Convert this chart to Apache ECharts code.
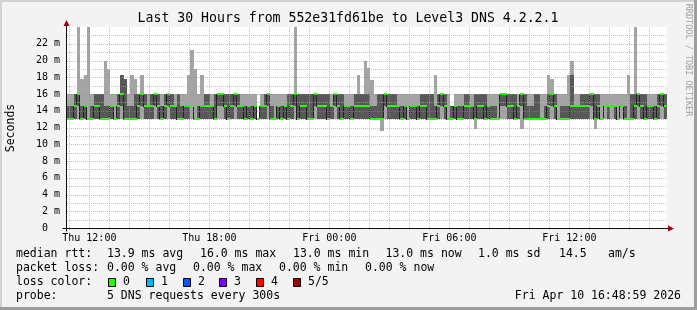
<!DOCTYPE html>
<html><head><meta charset="utf-8">
<script src="https://cdn.jsdelivr.net/npm/echarts@6/dist/echarts.min.js"></script>
<style>html,body{margin:0;padding:0;background:#f3f3f3}#c{width:697px;height:310px}</style>
</head><body><div id="c"></div><script>
// time in hours since Thu 00:00; one sample every 10 minutes
const START = 10 + 53/60;
const STEP = 1/6;
const YMAX = 24;

const xTickValues = [12, 18, 24, 30, 36];
const xTickLabels = ['Thu 12:00', 'Thu 18:00', 'Fri 00:00', 'Fri 06:00', 'Fri 12:00'];
const yTickValues = [0, 2, 4, 6, 8, 10, 12, 14, 16, 18, 20, 22];
const vGridMinor = [11,12,13,14,15,16,17,18,19,20,21,22,23,24,25,26,27,28,29,30,31,32,33,34,35,36,37,38,39,40];
const vGridMajor = [12,15,18,21,24,27,30,33,36,39];
const hGridMinor = [1,3,5,7,9,11,13,15,17,19,21,23];
const hGridMajor = [2,4,6,8,10,12,14,16,18,20,22];

// ping percentiles (ms): lowest, 2nd, median, 4th, highest
const pingMin = [
13,13,13,13,13,13,13,13,13,13, 13,13,13,13,13,13,13,13,13,13,
13,13,13,13,13,13,13,13,13,13, 13,13,13,13,13,13,13,13,13,13,
13,13,13,13,13,13,13,13,13,13, 13,13,13,13,13,13,13,13,13,13,
13,13,13,13,13,13,13,13,13,13, 13,13,13,13,13,13,13,13,13,13,
13,13,13,13,13,13,13,13,13,13, 13,13,13,13,11.6,13,13,13,13,13,
13,13,13,13,13,13,13,13,13,13, 13,13,13,13,13,13,13,13,13,13,
13,13,11.8,13,13,13,13,13,13,13, 13,13,13,13,13,13,11.8,13,13,13,
13,13,13,13,13,13,13,13,13,13, 13,13,13,13,13,13,13,13,11.8,13,
13,13,13,13,13,13,13,13,13,13, 13,13,13,13,13,13,13,13,13,13];
const ping2 = [
13,13,13,14.6,13,13,13,13,13,13, 13,13,13,13,13,13,14.6,13,13,13,
13,13,14.6,13,13,13,14.6,13,13,13, 14.6,13,13,13,13,13,13,14.6,13,13,
13,13,13,13,13,14.6,14.6,13,13,13, 14.6,13,13,13,13,13,13,13,13,13,
14.6,13,13,13,13,13,13,13,14.6,13, 13,13,13,13,14.6,13,13,13,13,13,
14.6,13,13,13,13,13,13,13,13,13, 13,13,13,13,13,14.6,13,13,13,13,
13,13,13,13,13,13,13,13,13,13, 13,13,14.6,13,13,13,13,13,13,13,
13,13,13,13,13,13,13,13,13,13, 14.6,14.6,13,13,13,13,14.6,13,13,13,
13,13,13,13,13,14.6,13,13,13,13, 13,13,13,13,13,13,13,14.6,13,13,
13,14.6,13,14.6,13,13,14.6,13,13,13, 13,14.6,13,13,13,13,13,13,14.6,13];
const median = [
13,13,14.6,16,13,14.6,13,13,14.6,14.6, 13,13,13,14.6,13,14.6,16,13,13,13,
13,14.6,16,14.6,14.6,14.6,16,14.6,13,14.6, 16,14.6,14.6,13,13,14.6,14.6,14.6,13,13,
14.6,14.6,14.6,14.6,13,16,16,14.6,13,14.6, 16,14.6,14.6,13,14.6,13,14.6,13,14.6,14.6,
16,13,13,14.6,13,14.6,13,14.6,16,13, 14.6,14.6,13,13,16,14.6,14.6,14.6,13,14.6,
16,14.6,13,14.6,14.6,13,14.6,14.6,14.6,14.6, 14.6,13,13,13,13,16,14.6,14.6,14.6,14.6,
13,14.6,13,14.6,14.6,13,14.6,14.6,13,13, 13,14.6,16,14.6,13,13,14.6,13,13,14.6,
14.6,14.6,13,14.6,14.6,13,14.6,13,13,13, 16,16,14.6,14.6,13,14.6,16,13,13,13,
13,13,13,13,14.6,16,14.6,13,13,13, 13,14.6,14.6,14.6,14.6,14.6,14.6,16,13,14.6,
13,14.6,14.6,14.6,14.6,13,14.6,13,13,13, 14.6,16,14.6,13,14.6,14.6,13,14.6,16,14.6];
const ping4 = [
14.6,14.6,16,16,14.6,14.6,13,14.6,16,16, 16,14.6,14.6,14.6,13,16,18.3,17.8,14.6,14.6,
16,16,16,16,14.6,16,16,16,14.6,16, 16,16,14.6,16,14.6,14.6,14.6,14.6,13,14.6,
14.6,16,16,14.6,16,16,16,16,16,16, 16,16,14.6,14.6,14.6,14.6,14.6,13,14.6,16,
16,14.6,13,14.6,14.6,14.6,16,16,16,16, 16,16,16,16,16,16,16,16,16,14.6,
16,16,16,14.6,14.6,14.6,16,16,16,16, 16,14.6,14.6,16,16,16,16,16,16,14.6,
14.6,14.6,13,14.6,14.6,14.6,16,16,16,16, 14.6,16,16,16,13,14.6,14.6,14.6,14.6,16,
16,14.6,16,16,16,16,14.6,14.6,14.6,13, 16,16,16,16,16,14.6,16,16,14.6,14.6,
16,16,13,14.6,16,16,16,13,14.6,14.6, 14.6,18.3,14.6,14.6,16,16,16,16,16,16,
13,14.6,14.6,14.6,14.6,13,14.6,14.6,13,16, 16,16,16,16,14.6,14.6,14.6,16,16,16];
const pingMax = [
16,16,16,25,17.8,18.3,25,16,16,16, 16,20,19,16,16,16,18.3,17.8,16,18.3,
17.8,16,18.3,16,16,16,16,16,16,16, 16,16,16,16,16,16,18.3,21.2,19,16,
18.3,16,16,16,16,16,16,16,16,16, 16,16,16,16,16,16,16,13,16,16,
16,16,16,16,16,16,16,16,25,16, 16,16,16,16,16,16,16,16,16,16,
16,16,16,16,16,16,16,18.3,16,20, 19.1,17.7,16,16,16,16,16,16,16,16,
16,16,16,16,16,16,16,16,16,16, 18.3,16,16,16,16,14.6,16,16,16,16,
16,16,16,16,16,16,16,16,16,16, 16,16,16,16,16,16,16,16,16,16,
16,16,16,16,18.3,17.8,16,16,16,16, 18.3,20,16,16,16,16,16,16,16,16,
16,16,16,16,16,16,16,16,18.3,16, 25,16,16,16,16,16,16,16,16,16];

const MONO = '"DejaVu Sans Mono", monospace';
const smokeData = pingMin.map((v, i) => [START + i*STEP, START + (i+1)*STEP, pingMin[i], ping2[i], ping4[i], pingMax[i]]);
const medData = median.map((v, i) => [START + i*STEP, START + (i+1)*STEP, v, i + 1 < median.length ? median[i+1] : v]);
const gridData = [];
vGridMinor.forEach(v => { if (vGridMajor.indexOf(v) < 0) gridData.push([v, 0, 0]); });
vGridMajor.forEach(v => gridData.push([v, 0, 1]));
hGridMinor.forEach(v => gridData.push([START, v, 2]));
hGridMajor.forEach(v => gridData.push([START, v, 3]));

const chart = echarts.init(document.getElementById('c'), null, {renderer: 'canvas'});
const yPix = (api, v) => api.coord([START, Math.min(v, YMAX)])[1];

chart.setOption({
  backgroundColor: '#f3f3f3',
  animation: false,
  grid: {left: 67, top: 27, width: 600, height: 201, show: true, backgroundColor: '#ffffff', borderWidth: 0},
  xAxis: {type: 'value', min: START, max: START + 30,
    axisLine: {show: false}, axisTick: {show: false}, splitLine: {show: false},
    axisLabel: {customValues: xTickValues, formatter: v => xTickLabels[xTickValues.indexOf(v)],
      fontFamily: MONO, fontSize: 10, color: '#000', margin: 5}},
  yAxis: {type: 'value', min: 0, max: YMAX, interval: 2,
    axisLine: {show: false}, axisTick: {show: false}, splitLine: {show: false},
    axisLabel: {customValues: yTickValues, formatter: v => v === 0 ? '0  ' : v + ' m',
      fontFamily: MONO, fontSize: 10, color: '#000', margin: 7}},
  series: [
    {type: 'custom', z: 2, data: smokeData, encode: {x: [0, 1], y: [2, 5]},
      renderItem: (params, api) => {
        const xa = Math.round(api.coord([api.value(0), 0])[0]);
        const xb = Math.round(api.coord([api.value(1), 0])[0]);
        const y1 = Math.round(yPix(api, api.value(2)));
        const y2 = Math.round(yPix(api, api.value(3)));
        const y4 = Math.round(yPix(api, api.value(4)));
        const y5 = Math.round(yPix(api, api.value(5)));
        return {type: 'group', children: [
          {type: 'rect', shape: {x: xa, y: y5, width: xb - xa, height: y1 - y5}, style: {fill: '#a4a4a4'}},
          {type: 'rect', shape: {x: xa, y: y4, width: xb - xa, height: y2 - y4}, style: {fill: '#585858'}}
        ]};
      }},
    {type: 'custom', z: 3, data: medData, encode: {x: [0, 1], y: 2},
      renderItem: (params, api) => {
        const xa = Math.round(api.coord([api.value(0), 0])[0]);
        const xb = Math.round(api.coord([api.value(1), 0])[0]);
        const ym = Math.round(yPix(api, api.value(2)));
        const yn = Math.round(yPix(api, api.value(3)));
        const ch = [];
        if (ym !== yn) ch.push({type: 'rect', shape: {x: xb - 1, y: Math.min(ym, yn), width: 1, height: Math.abs(ym - yn) + 1}, style: {fill: '#202020'}});
        ch.push({type: 'rect', shape: {x: xa, y: ym - 1, width: xb - xa, height: 2}, style: {fill: '#22ff00'}});
        return {type: 'group', children: ch};
      }},
    {type: 'custom', z: 5, silent: true, data: gridData, encode: {x: 0, y: 1},
      renderItem: (params, api) => {
        const kind = api.value(2);
        if (kind < 2) {
          const x = Math.round(api.coord([api.value(0), 0])[0]) + 0.5;
          const yt = api.coord([api.value(0), YMAX])[1];
          const yb = api.coord([api.value(0), 0])[1];
          return {type: 'line', shape: {x1: x, y1: yt, x2: x, y2: yb + (kind === 1 ? 3 : 2)},
            style: {stroke: kind === 1 ? 'rgba(240,100,100,0.55)' : 'rgba(170,170,170,0.7)', lineWidth: 1, lineDash: [1, 1]}};
        }
        const y = Math.round(api.coord([START, api.value(1)])[1]) + 0.5;
        const xl = api.coord([START, 0])[0];
        const xr = api.coord([START + 30, 0])[0];
        return {type: 'line', shape: {x1: xl, y1: y, x2: xr, y2: y},
          style: {stroke: kind === 3 ? 'rgba(240,100,100,0.55)' : 'rgba(170,170,170,0.7)', lineWidth: 1, lineDash: [1, 1]}};
      }}
  ]
});

const o = chart.convertToPixel({gridIndex: 0}, [START, 0]);
const e = chart.convertToPixel({gridIndex: 0}, [START + 30, YMAX]);
const ax = Math.round(o[0]) - 0.5, ay = Math.round(o[1]) + 0.5;
const ex = Math.round(e[0]), ey = Math.round(e[1]);
const T = (x, y, text, size, extra) => Object.assign({type: 'text', x: x, y: y, silent: true,
  style: Object.assign({text: text, font: size + 'px ' + MONO, fill: '#000', textVerticalAlign: 'middle'}, extra || {})});

const legendBoxes = [[108, '#22ff00', '0'], [146, '#00b8ff', '1'], [183, '#0059ff', '2'], [219, '#7e00ff', '3'], [256, '#ff0000', '4'], [293, '#a10000', '5/5']];
const g = [
  {type: 'rect', shape: {x: 0, y: 0, width: 697, height: 2}, style: {fill: '#d2d2d2'}, silent: true},
  {type: 'rect', shape: {x: 0, y: 0, width: 2, height: 310}, style: {fill: '#d2d2d2'}, silent: true},
  {type: 'rect', shape: {x: 0, y: 307, width: 697, height: 3}, style: {fill: '#9e9e9e'}, silent: true},
  {type: 'rect', shape: {x: 694, y: 0, width: 3, height: 310}, style: {fill: '#9e9e9e'}, silent: true},
  {type: 'line', shape: {x1: ax - 4, y1: ay, x2: ex + 3, y2: ay}, style: {stroke: '#101010', lineWidth: 1}, silent: true},
  {type: 'line', shape: {x1: ax, y1: ay + 3, x2: ax, y2: ey - 2}, style: {stroke: '#101010', lineWidth: 1}, silent: true},
  {type: 'polygon', shape: {points: [[ex + 7, ay], [ex + 1, ay - 3], [ex + 1, ay + 3]]}, style: {fill: '#a00000'}, silent: true},
  {type: 'polygon', shape: {points: [[ax, ey - 7], [ax - 3, ey - 1], [ax + 3, ey - 1]]}, style: {fill: '#a00000'}, silent: true},
  T(348, 19, 'Last 30 Hours from 552e31fd61be to Level3 DNS 4.2.2.1', 13.2, {textAlign: 'center'}),
  Object.assign(T(11, 128, 'Seconds', 11.5, {textAlign: 'center'}), {rotation: Math.PI / 2}),
  Object.assign(T(688.5, 60, 'RRDTOOL / TOBI OETIKER', 8.5, {textAlign: 'center', fill: '#a0a0a0'}), {rotation: -Math.PI / 2}),
  T(16, 254.5, 'median rtt:', 11.5), T(107, 254.5, '13.9 ms avg', 11.5), T(200, 254.5, '16.0 ms max', 11.5),
  T(293, 254.5, '13.0 ms min', 11.5), T(385.5, 254.5, '13.0 ms now', 11.5), T(478, 254.5, '1.0 ms sd', 11.5),
  T(559, 254.5, '14.5', 11.5), T(608, 254.5, 'am/s', 11.5),
  T(16, 268.5, 'packet loss:', 11.5), T(107, 268.5, '0.00 % avg', 11.5), T(193, 268.5, '0.00 % max', 11.5),
  T(279, 268.5, '0.00 % min', 11.5), T(365, 268.5, '0.00 % now', 11.5),
  T(16, 282.5, 'loss color:', 11.5),
  T(16, 296.5, 'probe:', 11.5), T(107, 296.5, '5 DNS requests every 300s', 11.5),
  T(681, 296.5, 'Fri Apr 10 16:48:59 2026', 11.5, {textAlign: 'right'})
];
legendBoxes.forEach(b => {
  g.push({type: 'rect', shape: {x: b[0] + 0.5, y: 278.5, width: 7, height: 8}, style: {fill: b[1], stroke: '#000', lineWidth: 1}, silent: true});
  g.push(T(b[0] + 15, 282.5, b[2], 11.5));
});
chart.setOption({graphic: {elements: g}});
</script></body></html>
